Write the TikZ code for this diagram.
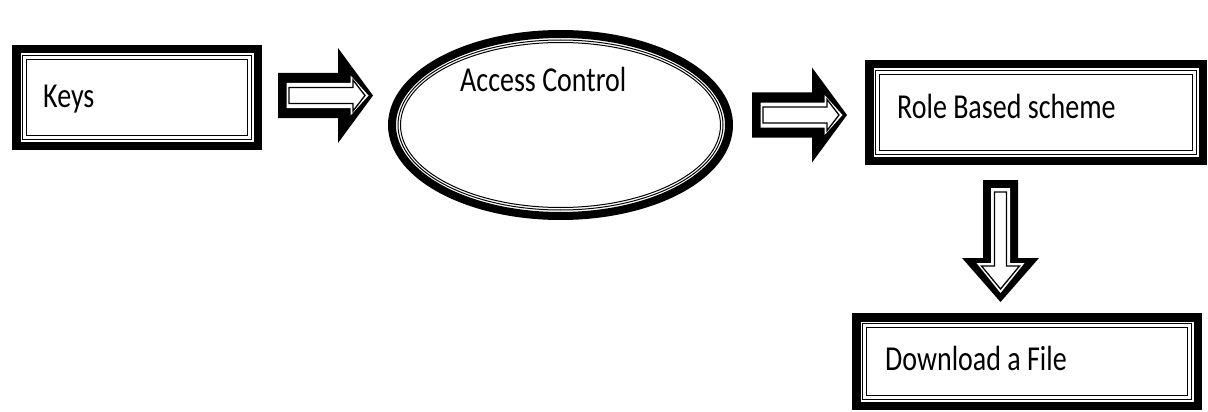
\documentclass[tikz,border=0pt]{standalone}
\usepackage{fontspec}
\usepackage{graphicx}
\setmainfont{Carlito}
\usetikzlibrary{shapes.geometric,calc}
\tikzset{
  x=1pt, y=-1pt,
  boxshape/.style={rectangle, draw=none, inner sep=0pt, outer sep=0pt},
  ovalshape/.style={ellipse, draw=none, inner sep=0pt, outer sep=0pt},
  bandline/.style={draw=black, line width=8.5pt},
  frameline/.style={draw=black, line width=1.2pt},
  lbl/.style={anchor=base west, inner sep=0pt, font=\fontsize{28}{30}\selectfont},
  arrowfill/.style={fill=black, draw=none},
  arrowgap/.style={fill=white, draw=none},
  arrowline/.style={fill=white, draw=black, line width=1.3pt, line join=miter},
  harrow/.pic={
    \path[arrowfill] (0,-22.5)--(60,-22.5)--(60,-47.5)--(95,0)--(60,47.5)--(60,22.5)--(0,22.5)--cycle;
    \path[arrowgap] (8.5,-12.5)--(72.5,-12.5)--(72.5,-20)--(90.5,0)--(72.5,20)--(72.5,12.5)--(8.5,12.5)--cycle;
    \path[arrowline] (11,-8)--(75,-8)--(75,-15.5)--(87,0)--(75,15.5)--(75,8)--(11,8)--cycle;
  },
  varrow/.pic={
    \path[arrowfill] (-17.5,0)--(17.5,0)--(17.5,78)--(38.5,78)--(0,122)--(-38.5,78)--(-17.5,78)--cycle;
    \path[arrowgap] (-9.5,8)--(9.5,8)--(9.5,83)--(24,83)--(0,113)--(-24,83)--(-9.5,83)--cycle;
    \path[arrowline] (-6,12)--(6,12)--(6,86)--(19,86)--(0,109)--(-19,86)--(-6,86)--cycle;
  }
}
\newcommand\lbltext[1]{\scalebox{1}[1.25]{#1}}
\newcommand\tripframe[1]{%
  \draw[bandline] ([shift={(4.25,4.25)}]#1.north west) rectangle ([shift={(-4.25,-4.25)}]#1.south east);
  \draw[frameline] ([shift={(10.5,10.5)}]#1.north west) rectangle ([shift={(-10.5,-10.5)}]#1.south east);
  \draw[frameline] ([shift={(14.5,14.5)}]#1.north west) rectangle ([shift={(-14.5,-14.5)}]#1.south east);
}
\begin{document}
\begin{tikzpicture}
  \useasboundingbox[fill=white] (0,0) rectangle (1208,412);

  % nodes
  \node[boxshape, minimum width=250, minimum height=105] (keys) at (137,97.5) {};
  \node[ovalshape, minimum width=345, minimum height=190] (ac) at (560.5,125) {};
  \node[boxshape, minimum width=342, minimum height=105] (role) at (1036,112.5) {};
  \node[boxshape, minimum width=350, minimum height=97] (dl) at (1027,361.5) {};

  % frames
  \tripframe{keys}
  \tripframe{role}
  \tripframe{dl}
  \draw[line width=8pt] (ac.center) ellipse [x radius=168.5, y radius=91];
  \draw[line width=1pt] (ac.center) ellipse [x radius=162.5, y radius=85];
  \draw[line width=1pt] (ac.center) ellipse [x radius=160, y radius=82.5];

  % labels
  \node[lbl] (keystext) at (43,107) {\lbltext{Keys}};
  \node[lbl] (actext) at (460,92) {\lbltext{Access Control}};
  \node[lbl] (roletext) at (897,118) {\lbltext{Role Based scheme}};
  \node[lbl] (dltext) at (885,370) {\lbltext{Download a File}};

  % block arrows
  \pic at ($(keys.east)+(16,-2)$) {harrow};
  \pic at ($(ac.east)+(19,-10)$) {harrow};
  \pic at ($(role.south)+(-35.5,15)$) {varrow};
\end{tikzpicture}
\end{document}
